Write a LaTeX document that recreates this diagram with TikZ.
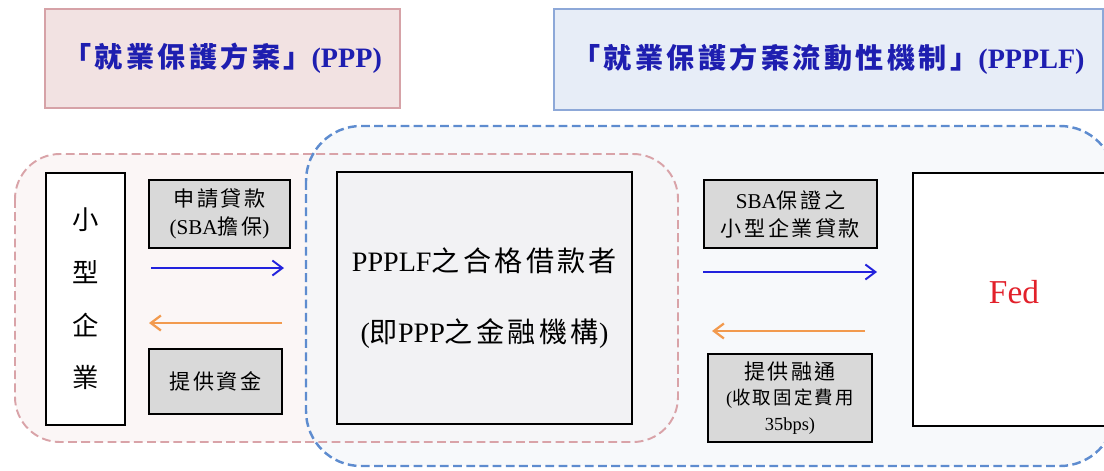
\documentclass[tikz,border=0pt]{standalone}
\usepackage{fontspec}
\setmainfont{Liberation Serif}
\newfontfamily\zhfont[LetterSpace=12]{Noto Sans CJK TC}
\newcommand{\zh}[1]{{\zhfont #1}}
\usepackage{xcolor}
\usetikzlibrary{arrows.meta}
\definecolor{pppfill}{HTML}{F2E2E2}
\definecolor{pppline}{HTML}{D6A2A7}
\definecolor{ppplffill}{HTML}{E7EDF7}
\definecolor{ppplfline}{HTML}{8DA8D8}
\definecolor{titleblue}{HTML}{1E1EB0}
\definecolor{pinkbg}{HTML}{FBF6F6}
\definecolor{pinkdash}{HTML}{D9A3A8}
\definecolor{bluebg}{HTML}{F4F6FA}
\definecolor{bluedash}{HTML}{5E8CCF}
\definecolor{boxgrey}{HTML}{D9D9D9}
\definecolor{ctrfill}{HTML}{F2F2F4}
\definecolor{arrblue}{HTML}{2222DD}
\definecolor{arrorange}{HTML}{F29A4E}
\definecolor{fedred}{HTML}{E2202A}

\begin{document}
\begin{tikzpicture}[x=0.02cm, y=-0.02cm,
  box/.style={draw=black, line width=0.9pt, inner sep=0pt},
  greybox/.style={box, fill=boxgrey, align=center, font=\fontsize{12}{16}\selectfont},
  titlebox/.style={draw, line width=1.1pt, inner sep=0pt, text=titleblue,
    font=\fontsize{16}{18}\selectfont\bfseries},
  toarr/.style={-{Straight Barb[length=2mm,width=3mm]}, line width=1.1pt, draw=arrblue},
  backarr/.style={-{Straight Barb[length=2mm,width=3mm]}, line width=1.3pt, draw=arrorange}]
  \useasboundingbox (0,0) rectangle (1104,470);

  \fill[pinkbg, rounded corners=0.9cm] (15,154) rectangle (678,442);
  \fill[bluebg, opacity=0.7, rounded corners=1.1cm] (306,126) rectangle (1115,466);
  \draw[pinkdash, line width=1.1pt, dash pattern=on 5pt off 2.5pt, rounded corners=0.9cm]
        (15,154) rectangle (678,442);
  \draw[bluedash, line width=1.4pt, dash pattern=on 5pt off 2.5pt, rounded corners=1.1cm]
        (306,126) rectangle (1115,466);

  \node[titlebox, fill=pppfill, draw=pppline, minimum width=7.1cm, minimum height=1.98cm]
        (ppp) at (222.5,58.5) {\zh{「就業保護方案」}(PPP)};
  \node[titlebox, fill=ppplffill, draw=ppplfline, minimum width=10.98cm, minimum height=2.02cm]
        (ppplf) at (828.5,59.5) {\zh{「就業保護方案流動性機制」}(PPPLF)};

  \node[box, fill=white, minimum width=1.58cm, minimum height=5.04cm, align=center,
        font=\zhfont\fontsize{15}{30}\selectfont] (sb) at (85.5,299) {小\\型\\企\\業};
  \node[greybox, minimum width=2.82cm, minimum height=1.36cm] (apply) at (219.5,214)
        {\zh{申請貸款}\\(SBA\zh{擔保})};
  \node[greybox, minimum width=2.66cm, minimum height=1.3cm] (fund) at (215.5,381.5)
        {\zh{提供資金}};
  \node[box, fill=ctrfill, minimum width=5.9cm, minimum height=5.04cm, align=center,
        font=\fontsize{16}{40}\selectfont] (ctr) at (484.5,298)
        {PPPLF\zh{之合格借款者}\\(\zh{即}PPP\zh{之金融機構})};
  \node[greybox, minimum width=3.46cm, minimum height=1.36cm] (loan) at (790.5,214)
        {SBA\zh{保證之}\\\zh{小型企業貸款}};
  \node[greybox, minimum width=3.28cm, minimum height=1.76cm,
        font=\fontsize{10.5}{14.7}\selectfont] (liq) at (790,398)
        {{\fontsize{12}{14.7}\selectfont\zh{提供融通}}\\(\zh{收取固定費用}\\35bps)};
  \node[box, fill=white, minimum width=4.04cm, minimum height=5.06cm, text=fedred,
        text depth=0.3cm, font=\fontsize{19}{22}\selectfont] (fed) at (1014,299.5) {Fed};

  \coordinate (a1) at (151,268);
  \coordinate (a2) at (284,268);
  \coordinate (b1) at (282,323);
  \coordinate (b2) at (149,323);
  \coordinate (c1) at (703,272);
  \coordinate (c2) at (877,272);
  \coordinate (d1) at (865,331);
  \coordinate (d2) at (712,331);
  \draw[toarr] (a1) -- (a2);
  \draw[backarr] (b1) -- (b2);
  \draw[toarr] (c1) -- (c2);
  \draw[backarr] (d1) -- (d2);
\end{tikzpicture}
\end{document}
